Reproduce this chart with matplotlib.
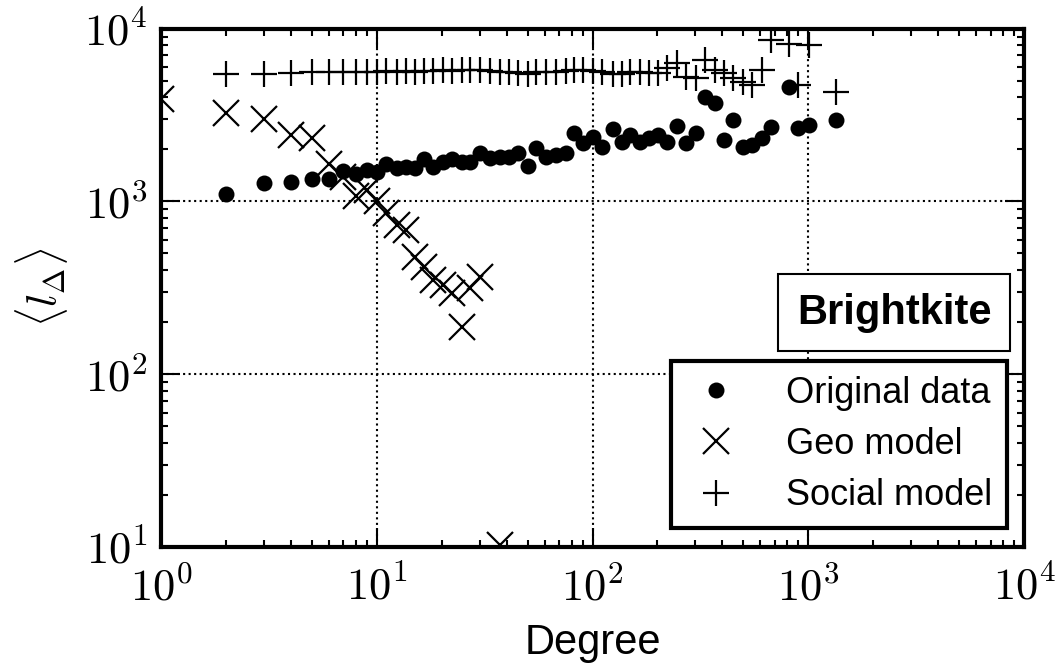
import math
import matplotlib
matplotlib.use("Agg")
import matplotlib.pyplot as plt
from matplotlib.ticker import FuncFormatter, LogLocator

plt.rcParams['mathtext.fontset'] = 'cm'
plt.rcParams['font.family'] = ['Liberation Sans', 'DejaVu Sans']

# Original data (degree bins, mean l_delta)
orig_x = [2, 3, 4, 5, 6, 7, 8, 9, 10, 11, 12.4, 13.7, 15, 16.6, 18.2, 20.3, 22.3,
          24.8, 27, 30, 33.4, 37.2, 41, 45, 50, 55, 61, 68, 75, 82, 90, 100, 111,
          124, 137, 149, 166, 183, 201, 221, 246, 271, 302, 332, 370, 407, 448,
          499, 548, 611, 672, 814, 896, 1008, 1345]
orig_y = [1110, 1283, 1300, 1352, 1352, 1506, 1445, 1527, 1486, 1652, 1567, 1588,
          1567, 1767, 1588, 1698, 1767, 1698, 1698, 1914, 1791, 1816, 1816, 1914,
          1610, 2047, 1816, 1864, 1914, 2500, 2188, 2350, 2075, 2636, 2218, 2432,
          2218, 2339, 2432, 2218, 2743, 2188, 2500, 4040, 3731, 2277, 2972, 2075,
          2130, 2339, 2710, 4617, 2672, 2780, 2972]

# Geo model
geo_x = [1, 2, 3, 4, 5, 6, 7, 8, 9, 10, 11, 12.4, 13.7, 15, 16.6, 18.2, 20.3,
         22.3, 24.8, 27, 30, 37.2]
geo_y = [3900, 3265, 3013, 2432, 2339, 1640, 1380, 1080, 1170, 1000, 861, 733,
         686, 479, 419, 352, 330, 296, 188, 316, 366, 10.3]

# Social model
soc_x = [2, 3, 4, 5, 6, 7, 8, 9, 10, 11, 12.4, 13.7, 15, 16.6, 18.2, 20.3, 22.3,
         24.8, 27, 30, 33.4, 37.2, 41, 45, 50, 55, 61, 68, 75, 82, 90, 100, 111,
         124, 137, 149, 166, 183, 201, 221, 246, 271, 302, 332, 370, 407, 448,
         499, 548, 611, 672, 814, 896, 1008, 1345]
soc_y = [5490, 5490, 5550, 5600, 5600, 5650, 5600, 5650, 5650, 5700, 5650, 5700,
         5650, 5700, 5700, 5750, 5700, 5750, 5750, 5800, 5700, 5650, 5600, 5550,
         5500, 5600, 5650, 5650, 5700, 5750, 5750, 5700, 5600, 5450, 5500, 5600,
         5650, 5550, 5560, 5940, 6360, 5270, 5200, 6610, 5790, 5560, 5200, 4930,
         4740, 5790, 8630, 8190, 4740, 8080, 4317]

fig = plt.figure(figsize=(10.59, 6.67), dpi=100)
ax = fig.add_axes([0.152, 0.180, 0.815, 0.777])

ax.plot(orig_x, orig_y, 'o', color='black', ms=11.5, mew=0, label='Original data')
ax.plot(geo_x, geo_y, 'x', color='black', ms=19, mew=1.6, label='Geo model')
ax.plot(soc_x, soc_y, '+', color='black', ms=19, mew=1.6, label='Social model')

ax.set_xscale('log')
ax.set_yscale('log')
ax.set_xlim(1, 1e4)
ax.set_ylim(10, 1e4)

# tick labels as 10^k in computer modern
fmt = FuncFormatter(lambda v, p: r'$10^{%d}$' % round(math.log10(v)))
ax.xaxis.set_major_locator(LogLocator(base=10, numticks=10))
ax.yaxis.set_major_locator(LogLocator(base=10, numticks=10))
ax.xaxis.set_major_formatter(fmt)
ax.yaxis.set_major_formatter(fmt)

ax.tick_params(which='both', direction='in', top=True, right=True, colors='black')
ax.tick_params(which='major', length=14, width=1.5, labelsize=32)
ax.tick_params(axis='x', which='major', pad=14)
ax.tick_params(axis='y', which='major', pad=10)
ax.tick_params(which='minor', length=5, width=1.5)
for s in ax.spines.values():
    s.set_linewidth(3)

ax.grid(True, which='major', linestyle=':', color='black', linewidth=1.5)

ax.set_xlabel('Degree', fontsize=30, labelpad=10)
ax.set_ylabel(r'$\langle l_\Delta \rangle$', fontsize=31, labelpad=10)

leg = ax.legend(loc='lower right', bbox_to_anchor=(0.98, 0.037), borderaxespad=0,
                fontsize=26, fancybox=False, framealpha=1, handletextpad=1.1,
                labelspacing=0.45, borderpad=0.4, handlelength=1.7)
leg.get_frame().set_edgecolor('black')
leg.get_frame().set_linewidth(3)

ax.text(0.962, 0.452, 'Brightkite', transform=ax.transAxes, ha='right', va='center',
        fontsize=30, fontweight='bold', zorder=5,
        bbox=dict(boxstyle='square,pad=0.45', facecolor='white', edgecolor='black',
                  linewidth=1.5))

fig.savefig('out.png', dpi=100)
